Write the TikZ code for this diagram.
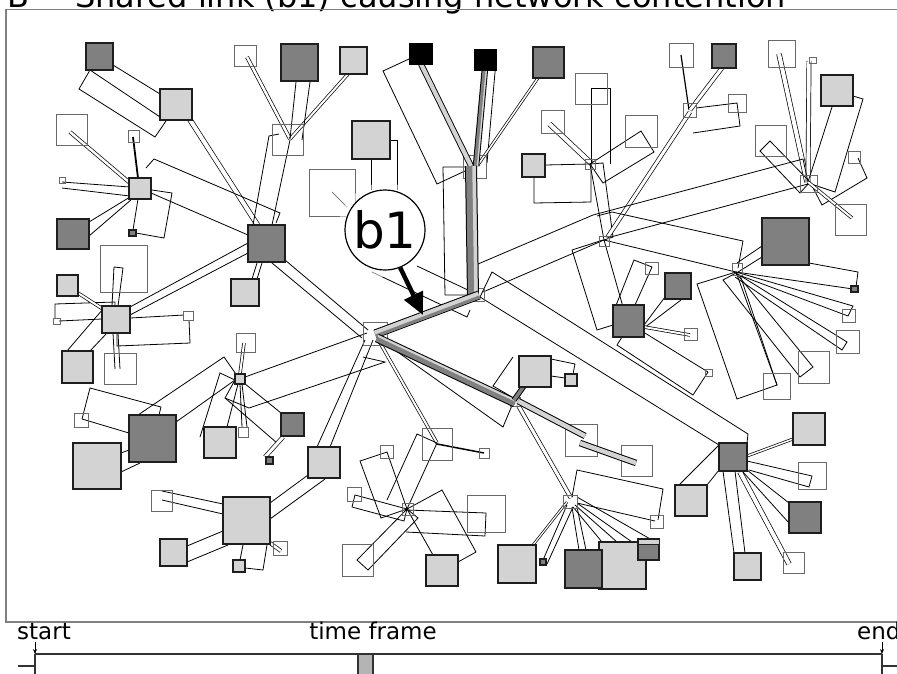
\documentclass[tikz,border=0pt]{standalone}
\usepackage{fontspec}
\setmainfont{DejaVu Sans}
\usetikzlibrary{arrows.meta}
\definecolor{dfill}{RGB}{128,128,128}
\definecolor{lfill}{RGB}{211,211,211}
\definecolor{sqb}{RGB}{30,30,30}
\definecolor{wb}{RGB}{105,105,105}
\definecolor{framec}{RGB}{128,128,128}
\definecolor{tlc}{RGB}{50,50,50}
\definecolor{boxc}{RGB}{180,180,180}
\begin{document}
\begin{tikzpicture}[x=1pt,y=-1pt,
  ln/.style={draw=black, line width=0.8pt},
  pg/.style={draw=black, line width=0.8pt},
  dbl/.style={draw=black, line width=0.7pt, double=white, double distance=#1},
  sqW/.style={draw=wb, line width=0.9pt},
  sqL/.style={draw=sqb, fill=lfill, line width=1.4pt},
  sqD/.style={draw=sqb, fill=dfill, line width=1.4pt},
  sqK/.style={draw=black, fill=black, line width=1pt},
  tl/.style={draw=tlc, line width=1.5pt},
  lbl/.style={inner sep=0pt, font=\fontsize{23}{23}\selectfont}]
\useasboundingbox (0,0) rectangle (897,673);
% title and frame
\node[anchor=base west, inner sep=0pt, font=\fontsize{32}{32}\selectfont] (ttlB) at (7,7.3) {B};
\node[anchor=base west, inner sep=0pt, font=\fontsize{32}{32}\selectfont] (ttl) at (75,7.3) {Shared link (b1) causing network contention};
\draw[framec, line width=1.2pt] (905,9.5) -- (6,9.5) -- (6,622) -- (905,622);
% hubs
\coordinate (Hmain) at (375,334);
\coordinate (Hb) at (477,295);
\coordinate (Htop) at (475,167);
\coordinate (Hc) at (516,401);
\coordinate (Hd) at (604,240);
\coordinate (He) at (590,164);
\coordinate (Hf) at (689,110);
\coordinate (Hg) at (808,182);
\coordinate (Hh) at (736,272);
\coordinate (Hi) at (570,502);
\coordinate (Hj) at (407,509);
% ---------- thin links: top-left
\draw[pg] (90,70)--(79,89)--(155,137)--(166,121)--cycle;
\draw[ln] (113,65)--(160,94);
\draw[dbl=4pt] (189.5,119)--(257.5,225);
\draw[dbl=2.5pt] (247,57)--(290,139);
\draw[dbl=2pt] (348,74)--(290,139);
\draw[ln] (296,82)--(290,139); \draw[ln] (310,82)--(302,140);
\draw[ln] (269,136)--(253,225); \draw[ln] (290,140)--(272,225); \draw[ln] (269,136)--(279,134);
\draw[dbl=2.5pt] (70,132)--(130,183);
\draw[ln, line width=1.8pt] (133,137)--(138,178);
\draw[ln] (62,182)--(130,187); \draw[ln] (62,188)--(130,196);
\draw[ln] (89,222)--(130,197); \draw[ln] (89,236)--(132,199);
\draw[ln] (133,230)--(138,199);
\draw[pg] (152,190)--(172,193)--(164,238)--(136,233);
\draw[ln] (151,193)--(248,235);
\draw[pg] (146,168)--(154,159)--(280,213)--(276,223);
\draw[ln] (248,243)--(130,307); \draw[ln] (248,253)--(130,315);
\draw[ln] (257,263)--(252,279); \draw[ln] (262,263)--(257,279);
\draw[ln] (285,260)--(368,330); \draw[ln] (272,263)--(362,338);
% left hub (116,319)
\draw[pg] (55,318)--(55,304)--(115,302)--(115,306);
\draw[ln] (59,321)--(102,319);
\draw[ln] (130,318)--(184,315);
\draw[pg] (117,333)--(117,346)--(190,343)--(189,320);
\draw[dbl=2pt] (78,293)--(102,308.5);
\draw[pg] (114,267)--(123,268)--(118,306)--(112,306)--cycle;
\draw[ln] (113,333)--(115,369); \draw[ln] (118,333)--(120,369);
\draw[ln] (67,351)--(103,309); \draw[ln] (90,351)--(107,333);
% near b1
\draw[ln] (371,159)--(371,190);
\draw[pg] (390,140)--(397,140)--(397,190);
\draw[ln, draw=gray] (332,192)--(347,207);
% top middle
\draw[pg] (409,59)--(383,71)--(437,184)--(465,171);
\draw[pg] (475,167)--(443,167)--(445,295)--(473,295);
\draw[ln] (496,61)--(487,163);
\draw[dbl=1.5pt] (538,78)--(478,165);
% hub e
\draw[dbl=4pt] (549.5,124)--(591.5,163.5);
\draw[pg] (591,164)--(591,88)--(610,88)--(610,164);
\draw[pg] (590,164)--(641,131)--(654,152)--(603,183)--cycle;
\draw[ln] (545,165)--(He);
\draw[pg] (534,177)--(534,203)--(591,202)--(591,164);
\draw[pg] (590,164)--(603,163)--(613,237)--(604,240)--cycle;
% hub f
\draw[ln, line width=1.2pt] (681,55)--(Hf);
\draw[dbl=3pt] (722,68)--(690,110);
\draw[pg] (696,108)--(737,103)--(740,126)--(693,133);
\draw[dbl=3pt] (690,112)--(607,238);
% hub g
\draw[dbl=4pt] (779,54)--(807,182);
\draw[dbl=3.5pt] (809,61)--(808,182);
\draw[ln] (832,107)--(Hg);
\draw[pg] (853,96)--(863,99)--(835,192)--(808,183);
\draw[pg] (760,151)--(770,141)--(810,182)--(800,193)--cycle;
\draw[pg] (858,158)--(867,178)--(822,205)--(810,182);
\draw[dbl=2pt] (Hg)--(852,218);
% long links
\draw[pg] (478,264)--(593,215)--(803,159)--(808,182);
\draw[ln] (483,292)--(Hd);
\draw[ln] (607,238)--(808,184);
% hub h
\draw[ln] (762,246)--(737,263); \draw[ln] (762,257)--(738,272);
\draw[ln] (Hh)--(853,289);
\draw[pg] (809,263)--(858,272)--(856,287);
\draw[pg] (736,272)--(853,306)--(848,316)--(736,274);
\draw[pg] (736,273)--(847,342)--(842,350)--(735,277);
\draw[pg] (736,273)--(813,367)--(800,377)--(723,280)--cycle;
\draw[pg] (736,272)--(697,284)--(737,399)--(777,385)--cycle;
\draw[ln] (740,275)--(777,385);
\draw[ln] (Hd)--(Hh);
\draw[pg] (597,216)--(612,212)--(743,241)--(738,268);
% hub d
\draw[ln] (Hd)--(623,307);
\draw[pg] (603,240)--(572,250)--(597,330)--(613,325);
\draw[pg] (613,313)--(634,260)--(652,267)--(635,305);
\draw[ln] (644,325)--(665,297); \draw[ln] (644,328)--(681,300);
\draw[dbl=2pt] (644,327)--(690,335);
\draw[ln] (640,330)--(708,372);
\draw[pg] (622,337)--(617,345)--(693,395)--(708,372);
% Hb - dark hub
\draw[pg] (480,297)--(492,272)--(748,434)--(747,443);
\draw[ln] (480,297)--(719,445);
% dark hub (733,457)
\draw[dbl=1.5pt] (747,456)--(793,439);
\draw[pg] (747,461)--(812,476)--(809,487)--(749,470);
\draw[ln] (747,470)--(789,503); \draw[ln] (743,472)--(789,523);
\draw[dbl=4pt] (740,472)--(789,564);
\draw[ln] (723,471)--(734,553); \draw[ln] (735,471)--(745,553);
\draw[ln] (719,445)--(680,484); \draw[ln] (719,470)--(707,485);
% hub c
\draw[pg] (513,357)--(493,386)--(512,397);
\draw[pg] (551,359)--(575,364)--(573,374);
\draw[ln] (551,376)--(565,378);
\draw[pg] (385,343)--(503,427)--(513,403);
\draw[dbl=3pt] (518,405)--(571,498);
% hub i
\draw[pg] (572,497)--(577,470)--(663,489)--(658,520);
\draw[ln] (577,503)--(655,521);
\draw[ln] (577,497)--(652,540);
\draw[ln] (577,503)--(632,542);
\draw[ln] (575,505)--(617,542);
\draw[ln] (573,507)--(602,542);
\draw[ln] (572,507)--(579,550); \draw[ln] (577,507)--(586,550);
\draw[ln] (567,505)--(543,560); \draw[ln] (573,507)--(547,564);
\draw[dbl=1.2pt] (567,502)--(533,545);
% main hub
\draw[dbl=2pt] (379,341)--(437,443);
\draw[ln, line width=1.5pt] (437,444)--(484,453);
\draw[ln] (317,447)--(365,340); \draw[ln] (330,447)--(373,340);
\draw[pg] (372,272)--(467,317)--(470,310);
\draw[ln] (417,266)--(470,291);
\draw[ln] (245,377)--(367,333);
\draw[pg] (225,398)--(249,408)--(385,362)--(363,357);
% hub j
\draw[ln] (Hj)--(437,443);
\draw[pg] (387,500)--(417,434)--(437,443);
\draw[pg] (360,461)--(387,452)--(407,509)--(381,518)--cycle;
\draw[pg] (352,507)--(355,495)--(407,509)--(404,521)--cycle;
\draw[pg] (357,560)--(407,509)--(418,518)--(368,570)--cycle;
\draw[ln] (Hj)--(433,555);
\draw[pg] (407,509)--(442,490)--(476,552)--(458,562);
\draw[pg] (407,510)--(486,513)--(485,536)--(406,532);
% hub k (240,379)
\draw[dbl=2pt] (244,343)--(240,374);
\draw[ln] (227,427)--(238,384);
\draw[pg] (200,437)--(220,373)--(235,380);
\draw[ln] (242,427)--(240,384); \draw[ln] (247,427)--(242,384);
\draw[ln] (281,413)--(244,383);
\draw[pg] (235,380)--(225,398)--(277,443)--(282,436);
\draw[dbl=3pt] (265,457)--(283,437);
\draw[ln] (176,422)--(235,380);
\draw[pg] (138,415)--(224,357)--(238,377);
\draw[ln] (82,419)--(129,433);
\draw[pg] (82,419)--(90,388)--(161,407)--(159,415);
\draw[ln] (121,453)--(129,450); \draw[ln] (121,472)--(140,463);
% hub q (246,521)
\draw[ln] (270,503)--(308,475); \draw[ln] (270,519)--(325,479);
\draw[ln] (162,491)--(223,504); \draw[ln] (162,500)--(223,514);
\draw[ln] (187,546)--(223,531); \draw[ln] (187,562)--(228,545);
\draw[ln] (243,545)--(240,560);
\draw[pg] (267,545)--(263,570)--(245,568);
\draw[dbl=2.5pt] (270,543)--(281,551);
% ---------- white squares
\foreach \a/\b/\c/\d in {56/114/87/145, 128/130/139/142, 59/177/65/183, 234/45/256/66,
  272/124/303/155, 309/169/355/216, 100/245/147/292, 53/318/60/324, 183/311/193/320,
  575/73/607/104, 541/110/564/133, 625/115/657/147, 463/155/486/178, 669/43/693/67,
  728/94/746/112, 683/103/696/117, 768/40/795/67, 809/57/816/63, 755/125/786/156,
  848/151/860/163, 800/175/817/192, 835/204/866/235, 842/309/855/322, 836/330/859/353,
  645/262/658/274, 684/328/697/340, 705/369/712/376, 763/373/790/399, 798/351/829/383,
  104/353/136/384, 236/333/255/352, 74/413/88/427, 238/427/248/437, 151/490/172/511,
  273/541/287/555, 380/445/393/458, 347/487/361/501, 342/544/373/576, 402/503/413/515,
  422/428/452/460, 479/448/489/458, 565/424/597/456, 621/445/652/476, 467/495/505/532,
  650/515/663/528, 563/495/577/508, 798/462/826/489, 783/552/804/573, 363/322/387/345,
  471/288/484/301, 510/397/520/406, 599/236/609/246, 585/159/595/169, 732/263/742/275}
  {\draw[sqW] (\a,\b) rectangle (\c,\d);}
% ---------- main bands
\draw[line width=6pt] (421,64)--(471,166);
\draw[line width=4.2pt, lfill] (421,64)--(471,166);
\draw[line width=6.5pt] (485,68)--(476,166);
\draw[line width=4.5pt, dfill] (485,68)--(476,166);
\draw[line width=1.3pt, lfill] (486.5,68)--(477.5,166);
\draw[line width=12pt] (471,166)--(473,295);
\draw[line width=10pt, dfill] (471,166)--(473,295);
\draw[line width=3.5pt, lfill] (474,166)--(476,295);
\draw[line width=9pt] (Hmain)--(479,295);
\draw[line width=7pt, lfill] (Hmain)--(479,295);
\draw[line width=3pt, dfill] (375.7,335.9)--(479.7,296.9);
\draw[line width=9pt] (377,338)--(515,403);
\draw[line width=7pt, dfill] (377,338)--(515,403);
\draw[line width=2pt, lfill] (378,335.9)--(516,400.9);
\draw[line width=6.5pt] (518,401)--(585,436);
\draw[line width=4.5pt, lfill] (518,401)--(585,436);
\draw[line width=6.5pt] (580,443)--(636,463);
\draw[line width=4.5pt, lfill] (580,443)--(636,463);
\draw[line width=5.5pt] (514,400)--(524,386);
\draw[line width=3.5pt, dfill] (514,400)--(524,386);
% ---------- light squares
\foreach \a/\b/\c/\d in {160/89/192/120, 129/178/151/199, 231/279/259/306, 340/47/367/74,
  352/121/390/159, 57/275/78/296, 102/306/130/333, 522/154/545/177, 821/75/853/106,
  62/351/93/383, 235/374/245/384, 73/443/121/489, 204/427/236/458, 308/447/340/478,
  223/497/270/544, 160/539/187/566, 233/560/245/572, 426/555/458/586, 519/356/551/387,
  565/374/577/386, 498/545/536/583, 599/542/646/589, 675/485/707/516, 793/413/825/445,
  734/553/761/580}
  {\draw[sqL] (\a,\b) rectangle (\c,\d);}
% ---------- dark squares
\foreach \a/\b/\c/\d in {86/43/113/70, 248/225/285/262, 57/219/89/249, 281/44/318/81,
  533/47/564/78, 712/44/736/68, 762/218/809/265, 613/305/644/337, 665/273/691/299,
  129/415/176/462, 281/413/304/436, 565/550/602/588, 638/539/659/560, 719/443/747/471,
  789/502/821/533, 129/230/136/236, 266/457/273/464, 851/286/858/292, 540/559/546/565}
  {\draw[sqD] (\a,\b) rectangle (\c,\d);}
\draw[draw=sqb, fill=lfill, line width=1pt] (638,539) rectangle (659,544);
\draw[sqK] (409,43) rectangle (432,64);
\draw[sqK] (474,49) rectangle (496,70);
% ---------- b1 label
\fill[white, opacity=0.55] (385,230) circle (47);
\node[circle, draw, line width=1.2pt, fill=white, minimum size=80pt, inner sep=0pt,
  font=\fontsize{50}{50}\selectfont] (b1) at (385,230) {b1};
\coordinate (b1tip) at (423,315);
\draw[line width=4.5pt, -{Triangle[length=22pt,width=20pt]}] (b1.-68) -- (b1tip);
% ---------- time line
\node[lbl, anchor=base west] (start) at (17,639) {start};
\node[lbl, anchor=base] (tframe) at (373,639) {time frame};
\node[lbl, anchor=base west] (endl) at (857,639) {end};
\coordinate (tlL) at (35,654);
\coordinate (tlR) at (882,654);
\draw[tl] (tlL) -- (tlR);
\draw[tl] (18,666) -- (35,666);
\draw[tl] (tlL) -- (35,680);
\draw[tl] (tlR) -- (882,680);
\draw[tl] (882,666) -- (900,666);
\draw[draw=tlc, fill=boxc, line width=1.3pt] (358,654) rectangle (373,680);
\draw[line width=0.8pt, -{Stealth[length=5pt,width=4pt]}] (35,642) -- (tlL);
\draw[line width=0.8pt, -{Stealth[length=5pt,width=4pt]}] (882,642) -- (tlR);
\end{tikzpicture}
\end{document}
